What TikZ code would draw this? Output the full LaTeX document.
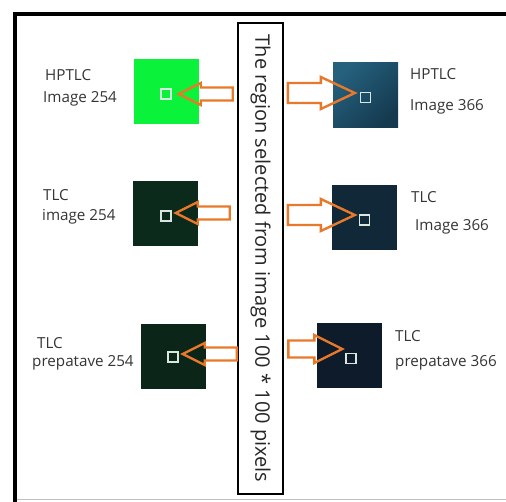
\documentclass[tikz,border=0pt]{standalone}
\usepackage{fontspec}
\setmainfont{Open Sans}
\usetikzlibrary{calc}
\definecolor{arrorange}{HTML}{E8782A}
\definecolor{labgray}{HTML}{353535}
\definecolor{sqgreen}{HTML}{0BF23B}
\definecolor{sqdkgreenA}{HTML}{0C2A1C}
\definecolor{sqdkgreenB}{HTML}{0B2619}
\definecolor{sqtealA}{HTML}{25607C}
\definecolor{sqtealB}{HTML}{153A50}
\definecolor{sqnavyA}{HTML}{112839}
\definecolor{sqnavyB}{HTML}{0D1B2B}
\definecolor{markwhite}{HTML}{D8E8E0}
\begin{document}
\begin{tikzpicture}[x=1pt,y=-1pt,
  bigsq/.style={draw=none,minimum size=65pt,inner sep=0pt,outer sep=0pt},
  marksq/.style={draw=markwhite,line width=1.4pt,minimum size=10pt,inner sep=0pt},
  lab/.style={font=\fontsize{15.2}{17}\selectfont,text=labgray,inner sep=0pt,anchor=mid west},
  arrst/.style={draw=arrorange,line width=2.4pt,line join=miter,fill=none},
  larr/.pic={\draw[arrst] (0,0) -- (22,-11) -- (22,-6.5) -- (54,-6.5) -- (54,6.5) -- (22,6.5) -- (22,11) -- cycle;},
  rarr/.pic={\draw[arrst] (0,0) -- (-34,-16) -- (-34,-10) -- (-67,-10) -- (-67,10) -- (-34,10) -- (-34,16) -- cycle;},
  rarrs/.pic={\draw[arrst] (0,0) -- (-28,-14) -- (-28,-8.5) -- (-54,-8.5) -- (-54,8.5) -- (-28,8.5) -- (-28,14) -- cycle;}
]
\useasboundingbox (0,0) rectangle (506,502);
\fill[white] (0,0) rectangle (506,502);
% outer frame (cut at right and bottom)
\draw[line width=3.2pt] (15,510) -- (15,14) -- (515,14);
\draw[black!25,line width=1pt] (16.6,499) -- (506,499);
% centre box
\node[draw,line width=2.6pt,minimum width=45pt,minimum height=471pt,inner sep=0pt] (cb) at (260.5,258.5) {};
\node[rotate=-90,font=\fontsize{20}{22}\selectfont,text=black!85,inner sep=0pt] (ct) at (cb.center) {The region selected from image 100 * 100 pixels};
% left squares
\node[bigsq,fill=sqgreen] (L1) at (166,92) {};
\node[bigsq,fill=sqdkgreenA] (L2) at (165.5,214) {};
\node[bigsq,fill=sqdkgreenB] (L3) at (173,357) {};
% right squares
\node[bigsq,left color=sqtealA,right color=sqtealB,shading angle=45] (R1) at (365.5,95.5) {};
\node[bigsq,fill=sqnavyA] (R2) at (364,217.5) {};
\node[bigsq,fill=sqnavyB] (R3) at (349,356) {};
% marked regions
\node[marksq] (s1) at (166,94) {};
\node[marksq] (s2) at (166,216) {};
\node[marksq] (s3) at (173,357) {};
\node[marksq] (s4) at (365.5,97.5) {};
\node[marksq] (s5) at (364.5,220) {};
\node[marksq] (s6) at (351,358.5) {};
% arrows from the centre box to the regions
\pic at ($(s1.east)+(7,0)$) {larr};
\pic at ($(s2.east)+(4,-3)$) {larr};
\pic at ($(s3.east)+(4,-3)$) {larr};
\pic at ($(s4.west)+(-5,-4.5)$) {rarr};
\pic at ($(s5.west)+(-4,-5)$) {rarr};
\pic at ($(s6.west)+(-3,-9.5)$) {rarrs};
% labels
\node[lab] (l1a) at (45,78) {HPTLC};
\node[lab] (l1b) at (43,100) {Image 254};
\node[lab] (l2a) at (43,198) {TLC};
\node[lab] (l2b) at (42,218) {image 254};
\node[lab] (l3a) at (37,346) {TLC};
\node[lab] (l3b) at (32,364) {prepatave 254};
\node[lab] (r1a) at (410,77) {HPTLC};
\node[lab] (r1b) at (410,108) {Image 366};
\node[lab] (r2a) at (411,200) {TLC};
\node[lab] (r2b) at (415,228) {Image 366};
\node[lab] (r3a) at (395,339) {TLC};
\node[lab] (r3b) at (395,364) {prepatave 366};
\end{tikzpicture}
\end{document}
